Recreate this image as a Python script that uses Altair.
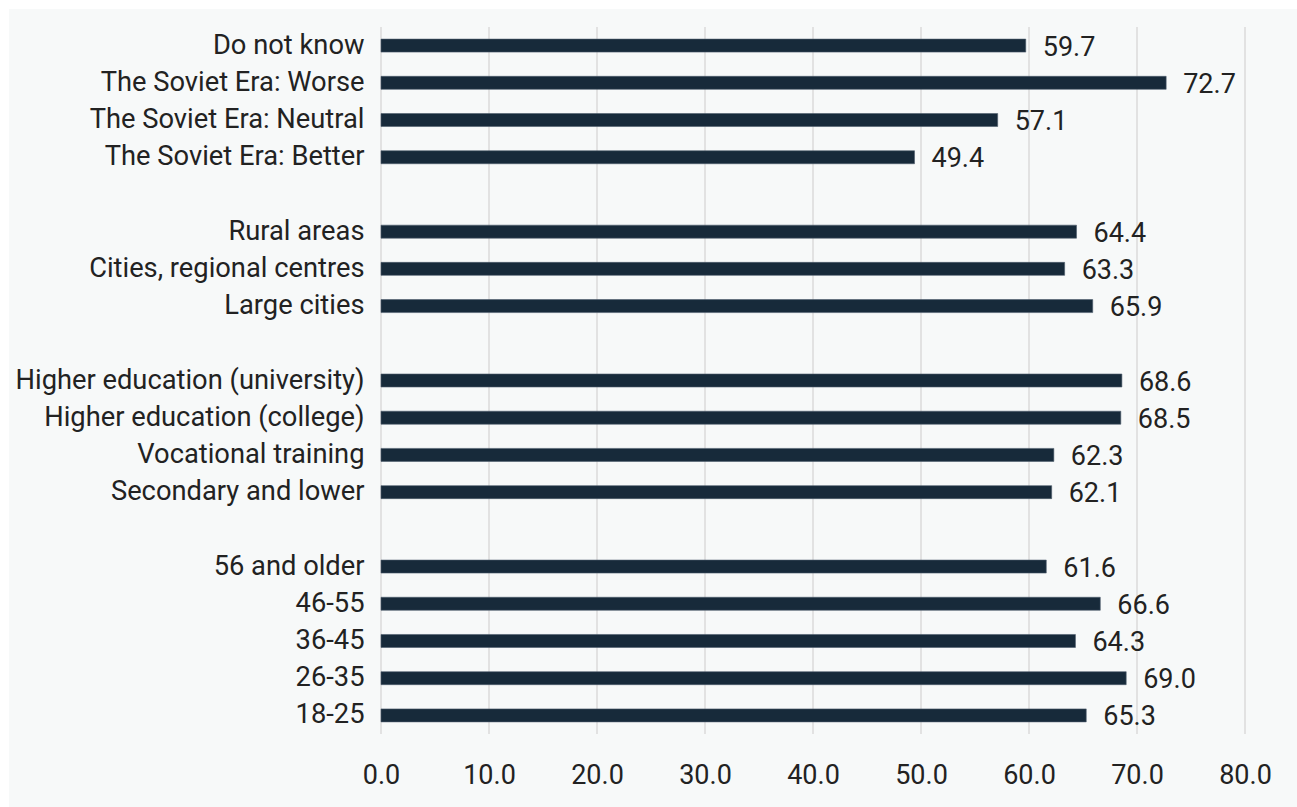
import altair as alt
import pandas as pd

# Row order from top to bottom; "gap" entries leave blank rows between groups
row_order = [
    "Do not know", "The Soviet Era: Worse", "The Soviet Era: Neutral", "The Soviet Era: Better",
    "gap1",
    "Rural areas", "Cities, regional centres", "Large cities",
    "gap2",
    "Higher education (university)", "Higher education (college)", "Vocational training",
    "Secondary and lower",
    "gap3",
    "56 and older", "46-55", "36-45", "26-35", "18-25",
]

categories = [
    "Do not know", "The Soviet Era: Worse", "The Soviet Era: Neutral", "The Soviet Era: Better",
    "Rural areas", "Cities, regional centres", "Large cities",
    "Higher education (university)", "Higher education (college)", "Vocational training",
    "Secondary and lower",
    "56 and older", "46-55", "36-45", "26-35", "18-25",
]
values = [
    59.7, 72.7, 57.1, 49.4,
    64.4, 63.3, 65.9,
    68.6, 68.5, 62.3, 62.1,
    61.6, 66.6, 64.3, 69.0, 65.3,
]
x_ticks = [0, 10, 20, 30, 40, 50, 60, 70, 80]

df = pd.DataFrame({"category": categories, "value": values})
ticks_df = pd.DataFrame({"value": x_ticks})

FONT = "Roboto"
TEXT = "#222222"
BAR = "#172a3a"
PANEL = "#f7f9f9"
GRID = "#e2e2e2"
FS = 27.3

x_scale = alt.Scale(domain=[0, 80], nice=False)
y_scale = alt.Scale(domain=row_order, paddingInner=0, paddingOuter=0)

x_axis = alt.Axis(
    title=None,
    values=x_ticks,
    format=".1f",
    domain=False,
    ticks=False,
    grid=False,
    zindex=1,
    labelFlush=False,
    labelOverlap=False,
    labelPadding=28,
    labelFontSize=27,
    labelFont=FONT,
    labelColor=TEXT,
)

y_axis = alt.Axis(
    title=None,
    domain=False,
    ticks=False,
    grid=False,
    zindex=1,
    labelPadding=17,
    labelFontSize=FS,
    labelFont=FONT,
    labelColor=TEXT,
    labelLimit=0,
    labelExpr="indexof(datum.label, 'gap') == 0 ? '' : datum.label",
)

# Light panel behind the chart, inset from the top-left canvas edge
panel = alt.Chart(pd.DataFrame({"k": [0]})).mark_rect(color=PANEL).encode(
    x=alt.value(-372), x2=alt.value(940),
    y=alt.value(-18), y2=alt.value(800),
)

# Vertical gridlines at each x tick, drawn beneath the bars
grid = alt.Chart(ticks_df).mark_rule(color=GRID, strokeWidth=2).encode(
    x=alt.X("value:Q", scale=x_scale, axis=x_axis),
)

bars = alt.Chart(df).mark_bar(
    size=13, color=BAR, stroke="#4d5d6b", strokeWidth=0.6
).encode(
    x=alt.X("value:Q", scale=x_scale, axis=x_axis),
    y=alt.Y("category:N", sort=row_order, scale=y_scale, axis=y_axis),
)

labels = alt.Chart(df).mark_text(
    align="left", baseline="middle", dx=17, dy=2,
    fontSize=27, font=FONT, color=TEXT,
).encode(
    x=alt.X("value:Q", scale=x_scale, axis=x_axis),
    y=alt.Y("category:N", sort=row_order, scale=y_scale, axis=y_axis),
    text=alt.Text("value:Q", format=".1f"),
)

chart = (
    alt.layer(panel, grid, bars, labels)
    .properties(
        width=864,
        height=707,
        background="#ffffff",
        autosize=alt.AutoSizeParams(type="none"),
        padding={"left": 381, "top": 27, "right": 52, "bottom": 73},
    )
    .configure_view(stroke=None)
)

chart.save("out.html", embed_options={"renderer": "svg", "actions": False})
